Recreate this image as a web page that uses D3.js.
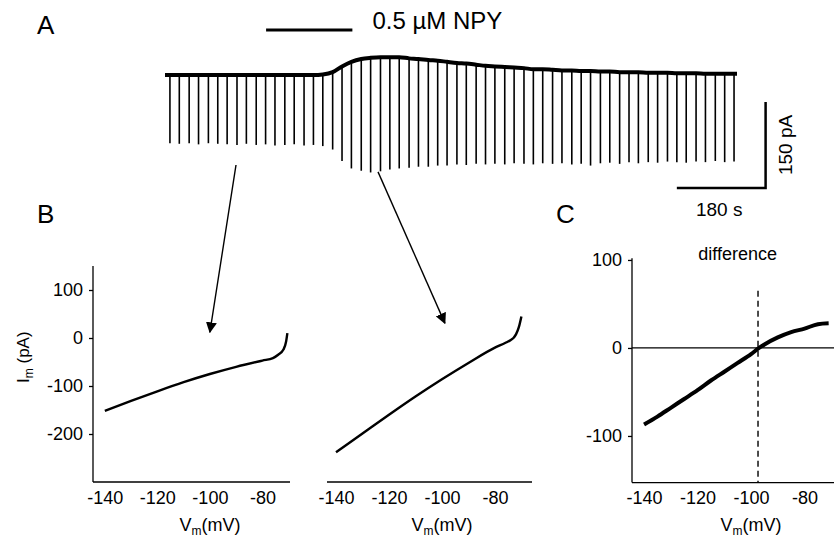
<!DOCTYPE html>
<html>
<head>
<meta charset="utf-8">
<script src="https://cdn.jsdelivr.net/npm/d3@7"></script>
<style>
  html, body { margin: 0; padding: 0; background: #fff; }
  svg { display: block; font-family: "Liberation Sans", Arial, sans-serif; }
  .axis path, .axis line { stroke: #000; stroke-width: 1.3; }
  .axis text { font-size: 18px; fill: #000; }
</style>
</head>
<body>
<div id="chart"></div>
<script>
// ---- panel A: holding current trace (s, pA) ----
const spikeTimes = [10, 29, 49, 68, 88, 107, 126, 146, 165, 185, 204, 223, 243, 262, 282,
  301, 320, 340, 359, 378, 398, 417, 437, 456, 475, 495, 514, 534, 553, 572,
  592, 611, 631, 650, 669, 689, 708, 728, 747, 766, 786, 805, 825, 844, 863,
  883, 902, 922, 941, 960, 980, 999, 1019, 1038, 1057, 1077, 1096, 1116, 1135, 1154];
// baseline current at each spike (pA, relative to control)
const spikeBase = [0, 0, 0, 0, 0, 0, 0, 0, 0, 0, 0, 0, 0, 0, 0,
  0, 1, 5, 15, 23, 28, 30, 31, 31, 31, 29, 28, 26, 25, 23,
  21, 20, 18, 16, 15, 14, 13, 12, 10, 10, 9, 8, 8, 7, 7,
  6, 6, 5, 5, 5, 4, 4, 4, 3, 3, 3, 2, 2, 2, 2];
// peak of the ramp current at each spike (pA)
const spikeTip = [-119, -120, -119, -121, -119, -120, -121, -122, -120, -122, -121, -123, -122, -121, -123,
  -122, -124, -130, -150, -163, -167, -170, -168, -165, -163, -162, -160, -160, -158, -158,
  -156, -157, -155, -156, -155, -156, -154, -155, -156, -154, -155, -154, -156, -155, -158,
  -154, -153, -155, -152, -154, -152, -153, -151, -152, -153, -151, -152, -150, -152, -151];
const traceEnds = [[0, 0], [1160, 2]];
const npyBar = [205, 380];
const scaleBarT = [1038, 1218];   // 180 s
const scaleBarI = [-197, -47];    // 150 pA

// ---- panel B: I-V curves (mV, pA) ----
const vCtrl = [-140, -130, -120, -110, -100, -90, -80, -76, -74, -72, -71, -70.5];
const iCtrl = [-152, -131, -111, -92, -75, -60, -47, -42, -35, -24, -8, 10];
const vNpy = [-140, -130, -120, -110, -100, -90, -80, -76, -74, -73, -72, -71, -70];
const iNpy = [-238, -199, -160, -122, -86, -52, -20, -10, -4, 0, 8, 22, 45];

// ---- panel C: difference current ----
const vDiff = [-140, -135, -130, -125, -120, -115, -110, -105, -100, -97, -95, -90, -85, -80, -75, -71];
const iDiff = [-87, -78, -68, -58, -48, -37, -27, -17, -7, 0, 4, 12, 18, 22, 27, 28];
const reversal = -97.4;

const xTicks = [-140, -120, -100, -80];
const yTicksB = [100, 0, -100, -200];
const yTicksC = [100, 0, -100];

const width = 834, height = 540;

const svg = d3.select("#chart").append("svg")
  .attr("width", width)
  .attr("height", height);

svg.append("defs").append("marker")
  .attr("id", "head")
  .attr("viewBox", "0 0 10 10")
  .attr("refX", 9).attr("refY", 5)
  .attr("markerWidth", 11).attr("markerHeight", 11)
  .attr("markerUnits", "userSpaceOnUse")
  .attr("orient", "auto")
  .append("path")
  .attr("d", "M0,0 L10,5 L0,10 z")
  .attr("fill", "#000");

// panel letters
const letter = (txt, x, y) => svg.append("text").attr("x", x).attr("y", y)
  .attr("font-size", 26).text(txt);
letter("A", 37, 34);
letter("B", 37, 223);
letter("C", 556, 223);

// ****************** panel A ***************************
const tA = d3.scaleLinear().domain([0, 1160]).range([165, 737]);
const yA = d3.scaleLinear().domain([-200, 50]).range([75 + 200 * 0.5733, 75 - 50 * 0.5733]);

const gA = svg.append("g");

gA.append("line")
  .attr("x1", tA(npyBar[0])).attr("x2", tA(npyBar[1]))
  .attr("y1", 30).attr("y2", 30)
  .attr("stroke", "#000").attr("stroke-width", 3);
gA.append("text")
  .attr("x", tA(npyBar[1]) + 20).attr("y", 29)
  .attr("font-size", 24)
  .text("0.5 \u00b5M NPY");

gA.selectAll("line.spike")
  .data(spikeTimes)
  .join("line")
  .attr("class", "spike")
  .attr("x1", d => tA(d)).attr("x2", d => tA(d))
  .attr("y1", (d, i) => yA(spikeBase[i]))
  .attr("y2", (d, i) => yA(spikeTip[i]))
  .attr("stroke", "#000").attr("stroke-width", 1.6);

const basePts = [traceEnds[0]]
  .concat(spikeTimes.map((t, i) => [t, spikeBase[i]]))
  .concat([traceEnds[1]]);

gA.append("path")
  .datum(basePts)
  .attr("fill", "none")
  .attr("stroke", "#000")
  .attr("stroke-width", 4)
  .attr("stroke-linejoin", "round")
  .attr("d", d3.line().x(d => tA(d[0])).y(d => yA(d[1])).curve(d3.curveMonotoneX));

// scale bars
gA.append("path")
  .attr("fill", "none").attr("stroke", "#000").attr("stroke-width", 2.5)
  .attr("d", `M${tA(scaleBarT[0])},${yA(scaleBarI[0])} H${tA(scaleBarT[1])} V${yA(scaleBarI[1])}`);
gA.append("text")
  .attr("x", (tA(scaleBarT[0]) + tA(scaleBarT[1])) / 2 - 2)
  .attr("y", yA(scaleBarI[0]) + 28)
  .attr("text-anchor", "middle").attr("font-size", 19)
  .text("180 s");
gA.append("text")
  .attr("transform", `translate(${tA(scaleBarT[1]) + 26},${(yA(scaleBarI[0]) + yA(scaleBarI[1])) / 2}) rotate(-90)`)
  .attr("text-anchor", "middle").attr("font-size", 19)
  .text("150 pA");

// ****************** panel B ***************************
const yB = d3.scaleLinear().domain([-300, 150]).range([482, 266]);
const xB1 = d3.scaleLinear().domain([-144.5, -69.5]).range([93, 290]);
const xB2 = d3.scaleLinear().domain([-143.4, -66]).range([327, 532]);

function xAxis(g, x, y0) {
  g.append("g")
    .attr("class", "axis")
    .attr("transform", `translate(0,${y0})`)
    .call(d3.axisBottom(x).tickValues(xTicks).tickSize(0).tickPadding(9).tickFormat(d => String(d)))
    .call(s => s.select(".domain").attr("d", `M${x.range()[0]},0 H${x.range()[1]}`));
}

function vLabel(x, y) {
  const t = svg.append("text").attr("x", x).attr("y", y)
    .attr("text-anchor", "middle").attr("font-size", 18);
  t.append("tspan").text("V");
  t.append("tspan").attr("font-size", 12).attr("dy", 4).text("m");
  t.append("tspan").attr("dy", -4).text("(mV)");
}

svg.append("g")
  .attr("class", "axis")
  .attr("transform", `translate(${xB1.range()[0]},0)`)
  .call(d3.axisLeft(yB).tickValues(yTicksB).tickSize(4).tickPadding(6).tickFormat(d => String(d)))
  .call(s => s.select(".domain").attr("d", `M0,${yB.range()[1]} V${yB.range()[0]}`));
xAxis(svg, xB1, yB.range()[0]);
xAxis(svg, xB2, yB.range()[0]);
vLabel(xB1(-100), 531);
vLabel(xB2(-100), 531);

const yLab = svg.append("text")
  .attr("transform", `translate(29,${yB(-40)}) rotate(-90)`)
  .attr("text-anchor", "middle").attr("font-size", 17);
yLab.append("tspan").text("I");
yLab.append("tspan").attr("font-size", 12).attr("dy", 4).text("m");
yLab.append("tspan").attr("dy", -4).text(" (pA)");

svg.append("path")
  .datum(vCtrl.map((v, i) => [v, iCtrl[i]]))
  .attr("fill", "none").attr("stroke", "#000").attr("stroke-width", 2.4)
  .attr("d", d3.line().x(d => xB1(d[0])).y(d => yB(d[1])).curve(d3.curveMonotoneX));

svg.append("path")
  .datum(vNpy.map((v, i) => [v, iNpy[i]]))
  .attr("fill", "none").attr("stroke", "#000").attr("stroke-width", 2.4)
  .attr("d", d3.line().x(d => xB2(d[0])).y(d => yB(d[1])).curve(d3.curveMonotoneX));

// arrows from trace to I-V curves
const arrows = [
  { t: 144, i: -157, x: xB1, v: -100, iv: 12 },
  { t: 432, i: -169, x: xB2, v: -98.9, iv: 31 }
];
svg.selectAll("line.arrow")
  .data(arrows)
  .join("line")
  .attr("class", "arrow")
  .attr("x1", d => tA(d.t)).attr("y1", d => yA(d.i))
  .attr("x2", d => d.x(d.v)).attr("y2", d => yB(d.iv))
  .attr("stroke", "#000").attr("stroke-width", 1.4)
  .attr("marker-end", "url(#head)");

// ****************** panel C ***************************
const xC = d3.scaleLinear().domain([-144.5, -69]).range([632, 834]);
const yC = d3.scaleLinear().domain([-153, 102]).range([482.6, 258.2]);

svg.append("g")
  .attr("class", "axis")
  .attr("transform", `translate(${xC.range()[0]},0)`)
  .call(d3.axisLeft(yC).tickValues(yTicksC).tickSize(4).tickPadding(6).tickFormat(d => String(d)))
  .call(s => s.select(".domain").attr("d", `M0,${yC.range()[1]} V${yC.range()[0]}`));
xAxis(svg, xC, yC.range()[0]);
vLabel(xC(-100), 531);

svg.append("line")
  .attr("x1", xC.range()[0]).attr("x2", xC.range()[1])
  .attr("y1", yC(0)).attr("y2", yC(0))
  .attr("stroke", "#000").attr("stroke-width", 1.3);

svg.append("line")
  .attr("x1", xC(reversal)).attr("x2", xC(reversal))
  .attr("y1", yC(65)).attr("y2", yC.range()[0])
  .attr("stroke", "#000").attr("stroke-width", 1.4)
  .attr("stroke-dasharray", "6,4");

svg.append("text")
  .attr("x", xC(-105)).attr("y", yC(100))
  .attr("text-anchor", "middle").attr("font-size", 18)
  .text("difference");

svg.append("path")
  .datum(vDiff.map((v, i) => [v, iDiff[i]]))
  .attr("fill", "none").attr("stroke", "#000").attr("stroke-width", 4)
  .attr("d", d3.line().x(d => xC(d[0])).y(d => yC(d[1])).curve(d3.curveMonotoneX));
</script>
</body>
</html>
